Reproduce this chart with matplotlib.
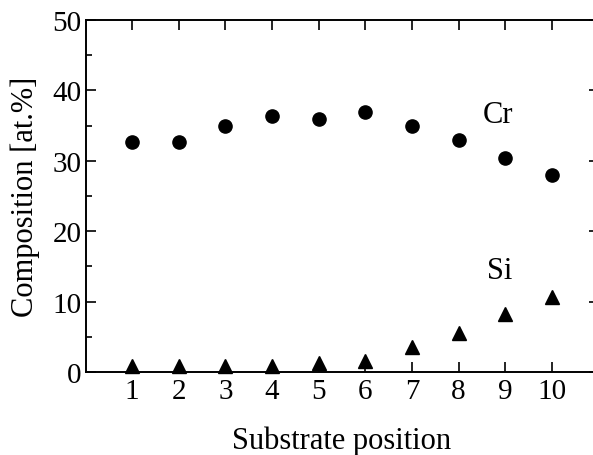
import matplotlib
matplotlib.use("Agg")
import matplotlib.pyplot as plt
from matplotlib.ticker import MultipleLocator

positions = [1, 2, 3, 4, 5, 6, 7, 8, 9, 10]
cr = [32.6, 32.6, 34.9, 36.3, 35.9, 36.9, 34.9, 33.0, 30.4, 28.0]
si = [0.9, 0.9, 0.9, 0.9, 1.3, 1.6, 3.6, 5.6, 8.2, 10.6]
xtick_labels = [str(p) for p in positions]

plt.rcParams['font.family'] = ['Liberation Serif', 'DejaVu Serif']

fig = plt.figure(figsize=(5.93, 4.56), dpi=100)
ax = fig.add_axes([85.5/593, 83/456, 513/593, 352/456])

ax.plot(positions, cr, 'o', color='black', markersize=9.5, clip_on=False)
ax.plot(positions, si, '^', color='black', markersize=10, clip_on=False)

ax.set_xlim(0, 11)
ax.set_ylim(0, 50)
ax.set_xticks(positions)
ax.set_xticklabels(xtick_labels)
ax.yaxis.set_major_locator(MultipleLocator(10))
ax.yaxis.set_minor_locator(MultipleLocator(5))

for s in ax.spines.values():
    s.set_linewidth(1.4)
ax.spines['right'].set_visible(False)

ax.tick_params(axis='both', which='major', direction='in', length=7.5, width=1.2,
               labelsize=21, top=True, right=True)
ax.tick_params(axis='x', which='major', pad=4)
ax.tick_params(axis='y', which='major', pad=3)
ax.tick_params(axis='y', which='minor', direction='in', length=4, width=1.2, right=True)

ax.set_xlabel('Substrate position', fontsize=22, labelpad=16)
ax.set_ylabel('Composition [at.%]', fontsize=22, labelpad=9)

ax.text(8.52, 36.6, 'Cr', fontsize=22, ha='left', va='center')
ax.text(8.61, 14.4, 'Si', fontsize=22, ha='left', va='center')

fig.savefig('out.png', dpi=100)
